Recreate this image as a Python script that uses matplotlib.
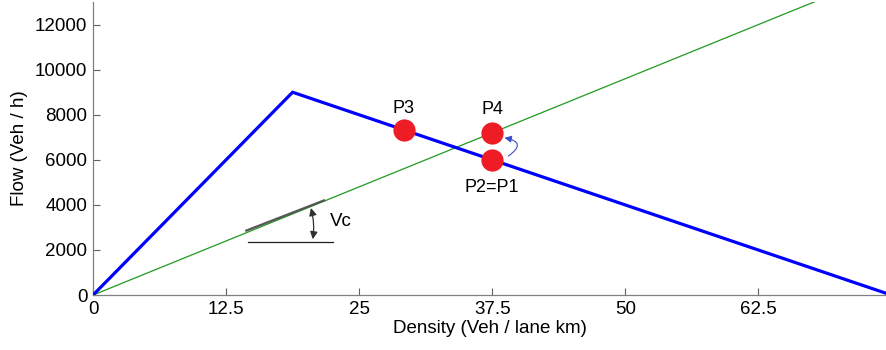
import matplotlib
matplotlib.use("Agg")
import matplotlib.pyplot as plt

plt.rcParams['font.family'] = ['Liberation Sans', 'DejaVu Sans']

# Fundamental diagram (triangular) and the wave-speed ray
fd_density = [0, 18.75, 75]
fd_flow = [0, 9000, 0]
ray_density = [0, 70]
ray_flow = [0, 13440]

# Marked states
point_names = ["P3", "P4", "P2=P1"]
point_density = [29.2, 37.5, 37.5]
point_flow = [7330, 7200, 6000]

x_ticks = [0, 12.5, 25, 37.5, 50, 62.5]
x_tick_labels = ["0", "12.5", "25", "37.5", "50", "62.5"]
y_ticks = [0, 2000, 4000, 6000, 8000, 10000, 12000]

fig = plt.figure(figsize=(8.86, 3.5), dpi=100)
ax = fig.add_axes([0.105, 0.157, 0.895, 0.837])

ax.plot(ray_density, ray_flow, color="#1f9a1f", lw=0.9, zorder=2)
ax.plot(fd_density, fd_flow, color="#0000ff", lw=2.3, zorder=3, solid_joinstyle="miter")
ax.plot(point_density, point_flow, "o", color="#ee1c24", markersize=16, zorder=4,
        markeredgewidth=0)

# point labels
label_offsets = [(0, 970), (0, 1030), (0, -1220)]
for name, x, y, (dx, dy) in zip(point_names, point_density, point_flow, label_offsets):
    ax.text(x + dx, y + dy, name, ha="center", va="center", fontsize=13)

# transition arrow P1 -> P4
ax.annotate("", xy=(38.4, 7000), xytext=(38.8, 6100),
            arrowprops=dict(arrowstyle="-|>", color="#3a4fc8", lw=0.8,
                            connectionstyle="arc3,rad=1.3", mutation_scale=10),
            zorder=5)

# wave speed annotation
ax.plot([14.4, 21.7], [2860, 4200], color="#555555", lw=1.6, zorder=3)
ax.plot([14.6, 22.5], [2356, 2356], color="#202020", lw=0.9, zorder=3)
ax.annotate("", xy=(20.4, 3980), xytext=(20.6, 2356),
            arrowprops=dict(arrowstyle="<|-|>", color="#303030", lw=0.9,
                            connectionstyle="arc3,rad=0.12", mutation_scale=11),
            zorder=5)
ax.text(22.3, 3250, "Vc", ha="left", va="center", fontsize=13.5)

ax.set_xlim(0, 74.5)
ax.set_ylim(0, 13000)
ax.set_xticks(x_ticks)
ax.set_xticklabels(x_tick_labels)
ax.set_yticks(y_ticks)
ax.tick_params(direction="in", length=5, width=0.8, color="#606060",
               labelsize=13.5, pad=4)
for side in ["top", "right"]:
    ax.spines[side].set_visible(False)
for side in ["left", "bottom"]:
    ax.spines[side].set_color("#808080")
    ax.spines[side].set_linewidth(0.9)

ax.set_xlabel("Density (Veh / lane km)", fontsize=13.5, labelpad=2)
ax.set_ylabel("Flow (Veh / h)", fontsize=13.5, labelpad=5)

fig.savefig("out.png", dpi=100)
